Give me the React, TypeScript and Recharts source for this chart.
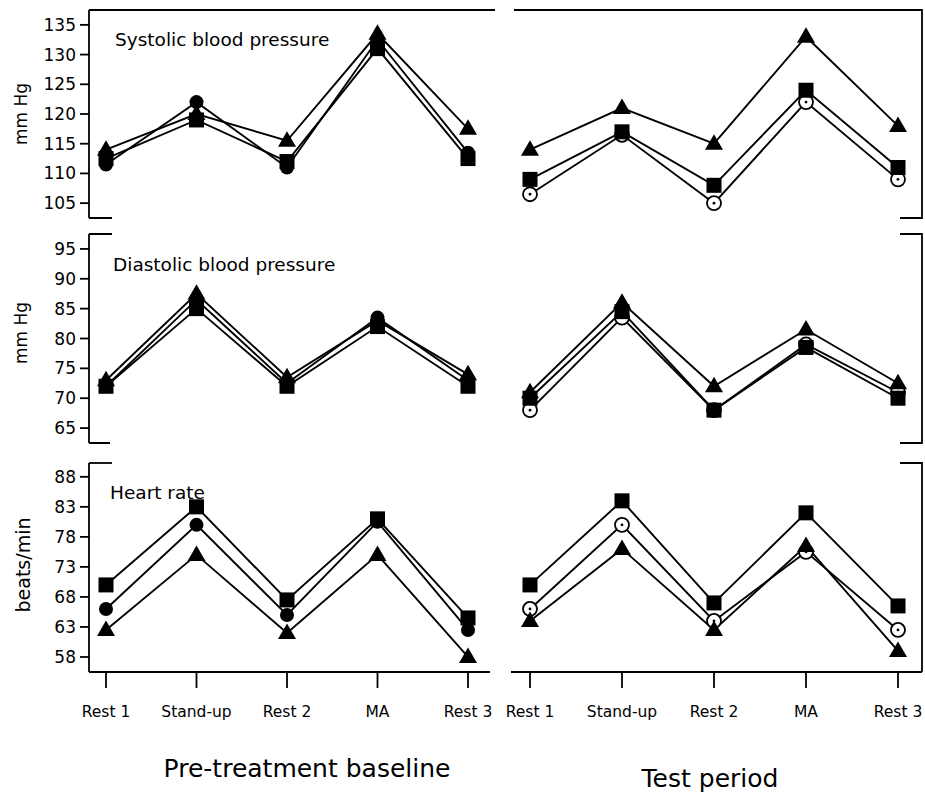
import { Line, LineChart, XAxis, YAxis } from "recharts";

const stages = ["Rest 1", "Stand-up", "Rest 2", "MA", "Rest 3"];

// systolic blood pressure, mm Hg
const sysBaseTriangle = [114, 120, 115.5, 133.5, 117.5];
const sysBaseSquare = [112.5, 119, 112, 131, 112.5];
const sysBaseCircle = [111.5, 122, 111, 132.5, 113.5];
const sysTestTriangle = [114, 121, 115, 133, 118];
const sysTestSquare = [109, 117, 108, 124, 111];
const sysTestCircle = [106.5, 116.5, 105, 122, 109];

// diastolic blood pressure, mm Hg
const diaBaseTriangle = [73, 87.5, 73.5, 83, 74];
const diaBaseSquare = [72, 85, 72, 82, 72];
const diaBaseCircle = [72, 86.5, 72.5, 83.5, 73];
const diaTestTriangle = [71, 86, 72, 81.5, 72.5];
const diaTestSquare = [70, 84.5, 68, 78.5, 70];
const diaTestCircle = [68, 83.5, 68, 79, 71];

// heart rate, beats/min
const hrBaseTriangle = [62.5, 75, 62, 75, 58];
const hrBaseSquare = [70, 83, 67.5, 81, 64.5];
const hrBaseCircle = [66, 80, 65, 80.5, 62.5];
const hrTestTriangle = [64, 76, 62.5, 76.5, 59];
const hrTestSquare = [70, 84, 67, 82, 66.5];
const hrTestCircle = [66, 80, 64, 75.5, 62.5];

const sysTicks = [105, 110, 115, 120, 125, 130, 135];
const diaTicks = [65, 70, 75, 80, 85, 90, 95];
const hrTicks = [58, 63, 68, 73, 78, 83, 88];

const FONT = "DejaVu Sans";
const INK = "#000";

type Shape = "triangle" | "square" | "circle" | "ring";

const makeDot = (shape: Shape) => (props: any) => {
  const { cx, cy, index } = props;
  const key = `${shape}-${index}`;
  if (cx == null || cy == null) return <g key={key} />;
  if (shape === "triangle")
    return (
      <path
        key={key}
        d={`M${cx},${cy - 9.5}L${cx + 9},${cy + 6}L${cx - 9},${cy + 6}Z`}
        fill={INK}
      />
    );
  if (shape === "square")
    return <rect key={key} x={cx - 7.5} y={cy - 7.5} width={15} height={15} fill={INK} />;
  if (shape === "circle") return <circle key={key} cx={cx} cy={cy} r={7} fill={INK} />;
  return (
    <g key={key}>
      <circle cx={cx} cy={cy} r={7} fill="#fff" stroke={INK} strokeWidth={1.8} />
      <circle cx={cx} cy={cy} r={1.4} fill={INK} />
    </g>
  );
};

const rows = [
  { top: 10, bottom: 218 },
  { top: 234, bottom: 443 },
  { top: 463, bottom: 672 },
];

type PanelProps = {
  side: "left" | "right";
  row: number;
  domain: [number, number];
  ticks: number[];
  triangle: number[];
  square: number[];
  circle: number[];
};

function Panel({ side, row, domain, ticks, triangle, square, circle }: PanelProps) {
  const { top, bottom } = rows[row];
  const showX = row === 2;
  const data = stages.map((stage, i) => ({
    stage,
    triangle: triangle[i],
    square: square[i],
    circle: circle[i],
  }));
  const left = side === "left";
  const height = 10 + (bottom - top) + (showX ? 60 : 10);
  const lineProps = {
    type: "linear" as const,
    stroke: INK,
    strokeWidth: 1.9,
    activeDot: false,
    isAnimationActive: false,
  };
  return (
    <div style={{ position: "absolute", left: left ? 0 : 500, top: top - 10 }}>
      <LineChart
        width={left ? 500 : 432}
        height={height}
        data={data}
        margin={{ top: 10, right: 10, bottom: showX ? 0 : 10, left: left ? 0 : 11 }}
      >
        <XAxis
          dataKey="stage"
          hide={!showX}
          height={60}
          interval={0}
          padding={left ? { left: 17, right: 22 } : { left: 19, right: 24 }}
          tickSize={16}
          tickMargin={18}
          axisLine={{ stroke: INK, strokeWidth: 1.8 }}
          tickLine={{ stroke: INK, strokeWidth: 1.8 }}
          tick={{ fill: INK, fontSize: 15.5, fontFamily: FONT }}
        />
        <YAxis
          hide={!left}
          domain={domain}
          ticks={ticks}
          allowDataOverflow
          width={89}
          tickSize={9}
          tickMargin={4}
          axisLine={{ stroke: INK, strokeWidth: 1.8 }}
          tickLine={{ stroke: INK, strokeWidth: 1.8 }}
          tick={{ fill: INK, fontSize: 17, fontFamily: FONT }}
        />
        <Line dataKey="circle" {...lineProps} dot={makeDot(left ? "circle" : "ring")} />
        <Line dataKey="square" {...lineProps} dot={makeDot("square")} />
        <Line dataKey="triangle" {...lineProps} dot={makeDot("triangle")} />
      </LineChart>
    </div>
  );
}

function Frames() {
  const s = { stroke: INK, strokeWidth: 1.8, fill: "none" };
  const [sys, dia, hr] = rows;
  return (
    <svg
      width={925}
      height={802}
      style={{ position: "absolute", left: 0, top: 0, pointerEvents: "none" }}
    >
      {/* left column brackets */}
      <path {...s} d={`M89,${sys.top}H495M89,${sys.bottom}H112`} />
      <path {...s} d={`M89,${dia.top}H112M89,${dia.bottom}H110`} />
      <path {...s} d={`M89,${hr.top}H112`} />
      {/* right column brackets */}
      <path {...s} d={`M514,${sys.top}H922V${sys.bottom}H900`} />
      <path {...s} d={`M900,${dia.top}H922V${dia.bottom}H900`} />
      <path {...s} d={`M900,${hr.top}H922V${hr.bottom}`} />

      <g fontFamily={FONT} fill={INK}>
        <text x={115} y={46} fontSize={18.5}>Systolic blood pressure</text>
        <text x={113} y={271} fontSize={18.5}>Diastolic blood pressure</text>
        <text x={110} y={499} fontSize={18.5}>Heart rate</text>

        <text x={21} y={114} fontSize={17} textAnchor="middle" dominantBaseline="central" transform="rotate(-90 21 114)">mm Hg</text>
        <text x={21} y={333} fontSize={17} textAnchor="middle" dominantBaseline="central" transform="rotate(-90 21 333)">mm Hg</text>
        <text x={23} y={565} fontSize={19} textAnchor="middle" dominantBaseline="central" transform="rotate(-90 23 565)">beats/min</text>

        <text x={307} y={777} fontSize={25} textAnchor="middle">Pre-treatment baseline</text>
        <text x={710} y={787} fontSize={25} textAnchor="middle">Test period</text>
      </g>
    </svg>
  );
}

export default function App() {
  return (
    <div
      style={{
        position: "absolute",
        left: 0,
        top: 0,
        width: 925,
        height: 802,
        background: "#fff",
        fontFamily: FONT,
        overflow: "hidden",
      }}
    >
      <Panel side="left" row={0} domain={[102.5, 137.5]} ticks={sysTicks} triangle={sysBaseTriangle} square={sysBaseSquare} circle={sysBaseCircle} />
      <Panel side="right" row={0} domain={[102.5, 137.5]} ticks={sysTicks} triangle={sysTestTriangle} square={sysTestSquare} circle={sysTestCircle} />
      <Panel side="left" row={1} domain={[62.5, 97.5]} ticks={diaTicks} triangle={diaBaseTriangle} square={diaBaseSquare} circle={diaBaseCircle} />
      <Panel side="right" row={1} domain={[62.5, 97.5]} ticks={diaTicks} triangle={diaTestTriangle} square={diaTestSquare} circle={diaTestCircle} />
      <Panel side="left" row={2} domain={[55.5, 90.3]} ticks={hrTicks} triangle={hrBaseTriangle} square={hrBaseSquare} circle={hrBaseCircle} />
      <Panel side="right" row={2} domain={[55.5, 90.3]} ticks={hrTicks} triangle={hrTestTriangle} square={hrTestSquare} circle={hrTestCircle} />
      <Frames />
    </div>
  );
}
